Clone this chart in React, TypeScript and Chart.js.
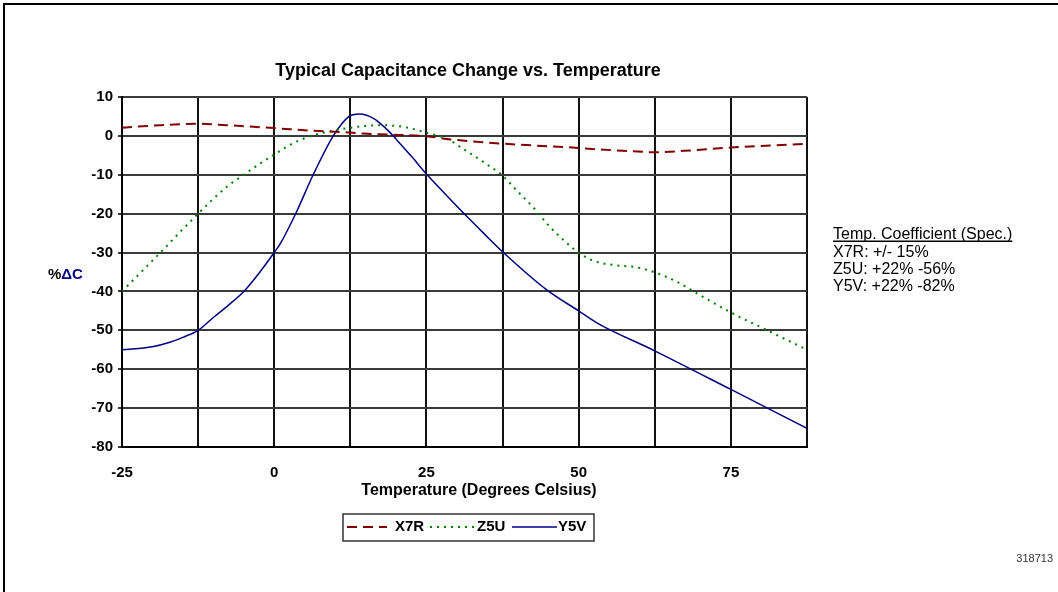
import { useEffect, useRef } from 'react';
import { Chart, registerables } from 'chart.js';

Chart.register(...registerables);

// ---- data (temperature °C -> % capacitance change) ----
const X7R_TEMPS = [-25, -18.7, -12.5, -7.8, 0, 6.4, 11.4, 14.6, 19, 25, 28.9, 37.5, 50, 53.5, 58.4, 62.4, 67.2, 75, 87.5];
const X7R_VALUES = [2.1, 2.75, 3.1, 2.75, 2.0, 1.3, 0.95, 0.6, 0.35, -0.1, -0.9, -2.0, -3.1, -3.5, -3.9, -4.2, -3.85, -3.0, -2.0];

const Z5U_TEMPS = [-25, -18.7, -12.5, -7.8, -5, -2.5, 0, 3.2, 7, 10, 12.5, 17.4, 21.8, 25, 28.3, 31, 34.9, 37.5, 39.8, 42.5, 44.75, 47.5, 50, 52.4, 55.7, 59.5, 62.7, 66.5, 69.4, 75, 81.1, 87.5];
const Z5U_VALUES = [-40, -30, -20, -13.1, -10, -7.3, -4.8, -1.8, 0.4, 1.4, 2.1, 2.75, 2.15, 0.8, -0.7, -3.3, -7.3, -10.2, -14, -18.3, -22.5, -26.8, -30, -32.1, -33.2, -33.8, -35.2, -37.8, -40.5, -45.4, -50.1, -55];

const Y5V_TEMPS = [-25, -20, -17, -15, -12.5, -10, -7.5, -5, -2.5, 0, 1, 3.4, 6.4, 9.7, 12.2, 14, 16.3, 17.4, 19, 20.5, 22.5, 25, 28, 31.25, 34.5, 37.5, 44.75, 50, 52.9, 62.4, 75, 87.5];
const Y5V_VALUES = [-55, -54.2, -53, -51.8, -50, -46.7, -43.5, -40, -35.3, -30, -27.7, -20.4, -10, 0, 4.9, 5.6, 4.5, 3.2, 0.9, -1.7, -5.2, -9.8, -14.8, -20.1, -25.2, -29.8, -39.6, -45, -48, -55.2, -65.2, -75.2];

const X_TICK_LABELS = [-25, 0, 25, 50, 75];
const SERIES_NAMES = ['X7R', 'Z5U', 'Y5V'];
const SPEC_LINES = ['X7R: +/- 15%', 'Z5U: +22% -56%', 'Y5V: +22% -82%'];

const FONT = "'Liberation Sans', Arial, Helvetica, sans-serif";
const COLORS = ['#800000', '#008000', '#000080'];
const DASHES = [[10, 6], [2, 5], []];
const WIDTHS = [2, 2, 1.5];

const extrasPlugin = {
  id: 'extras',
  afterDraw(chart: any) {
    const ctx = chart.ctx as CanvasRenderingContext2D;
    ctx.save();
    // frame
    ctx.fillStyle = '#000';
    ctx.fillRect(3, 3, 1055, 2);
    ctx.fillRect(3, 3, 2, 589);

    // title
    ctx.fillStyle = '#000';
    ctx.font = `bold 18px ${FONT}`;
    ctx.textAlign = 'center';
    ctx.textBaseline = 'middle';
    ctx.fillText('Typical Capacitance Change vs. Temperature', 468, 71);

    // x axis title
    ctx.font = `bold 16px ${FONT}`;
    ctx.fillText('Temperature (Degrees Celsius)', 479, 491);

    // y axis title
    ctx.font = `bold 15px ${FONT}`;
    ctx.textAlign = 'left';
    const pw = ctx.measureText('%').width;
    const yx = 48;
    const yy = 275;
    ctx.fillStyle = '#000';
    ctx.fillText('%', yx, yy);
    ctx.fillStyle = '#000080';
    ctx.fillText('\u0394C', yx + pw, yy);

    // legend box
    ctx.strokeStyle = '#333';
    ctx.lineWidth = 1.5;
    ctx.setLineDash([]);
    ctx.strokeRect(343, 514, 251, 27);
    const lineStarts = [347, 430, 512];
    const lineEnds = [387, 475, 557];
    const textStarts = [395, 477, 558];
    const ly = 527;
    SERIES_NAMES.forEach((name, i) => {
      ctx.strokeStyle = COLORS[i];
      ctx.lineWidth = WIDTHS[i];
      ctx.setLineDash(DASHES[i]);
      ctx.beginPath();
      ctx.moveTo(lineStarts[i], ly);
      ctx.lineTo(lineEnds[i], ly);
      ctx.stroke();
      ctx.setLineDash([]);
      ctx.fillStyle = '#000';
      ctx.font = `bold 15px ${FONT}`;
      ctx.textAlign = 'left';
      ctx.textBaseline = 'middle';
      ctx.fillText(name, textStarts[i], ly);
    });

    // spec annotation
    ctx.fillStyle = '#000';
    ctx.font = `16px ${FONT}`;
    ctx.textAlign = 'left';
    ctx.textBaseline = 'alphabetic';
    const head = 'Temp. Coefficient (Spec.)';
    ctx.fillText(head, 833, 239);
    const hw = ctx.measureText(head).width;
    ctx.fillRect(833, 240.5, hw, 1.5);
    SPEC_LINES.forEach((s, i) => ctx.fillText(s, 833, 257 + i * 17.2));

    // footer id
    ctx.font = `11px ${FONT}`;
    ctx.fillStyle = '#333';
    ctx.textAlign = 'right';
    ctx.fillText('318713', 1053, 562);
    ctx.restore();
  },
};

export default function App() {
  const ref = useRef<HTMLCanvasElement | null>(null);

  useEffect(() => {
    if (!ref.current) return;
    const series = [
      [X7R_TEMPS, X7R_VALUES],
      [Z5U_TEMPS, Z5U_VALUES],
      [Y5V_TEMPS, Y5V_VALUES],
    ];
    const chart = new Chart(ref.current, {
      type: 'line',
      data: {
        datasets: series.map(([t, v], i) => ({
          label: SERIES_NAMES[i],
          data: t.map((x, k) => ({ x, y: v[k] })),
          borderColor: COLORS[i],
          borderWidth: WIDTHS[i],
          borderDash: DASHES[i],
          pointRadius: 0,
          fill: false,
          cubicInterpolationMode: 'monotone' as const,
        })),
      },
      options: {
        responsive: false,
        animation: false,
        devicePixelRatio: 1,
        layout: { padding: { left: 62, right: 251, top: 97, bottom: 105 } },
        plugins: { legend: { display: false }, title: { display: false }, tooltip: { enabled: false } },
        scales: {
          x: {
            type: 'linear',
            min: -25,
            max: 87.5,
            afterFit: (s: any) => { s.height = 40; },
            afterBuildTicks: (s: any) => {
              const ticks = [];
              for (let k = 0; k <= 9; k++) ticks.push({ value: -25 + k * 12.5 });
              s.ticks = ticks;
            },
            ticks: {
              autoSkip: false,
              maxRotation: 0,
              padding: 17,
              color: '#000',
              font: { family: FONT, size: 15, weight: 'bold' },
              callback: (v: any) => (X_TICK_LABELS.includes(Number(v)) ? String(v) : ''),
            },
            grid: { color: '#111', lineWidth: 2, drawTicks: false },
            border: { display: true, color: '#000', width: 2 },
          },
          y: {
            min: -80,
            max: 10,
            afterFit: (s: any) => { s.width = 60; },
            ticks: {
              stepSize: 10,
              padding: 5,
              color: '#000',
              font: { family: FONT, size: 15, weight: 'bold' },
              callback: (v: any) => String(v),
            },
            grid: { color: '#3a3a3a', lineWidth: 2, drawTicks: true, tickLength: 4 },
            border: { display: true, color: '#000', width: 2 },
          },
        },
      },
      plugins: [extrasPlugin],
    });
    return () => chart.destroy();
  }, []);

  return (
    <div style={{ position: 'fixed', left: 0, top: 0, width: 1058, height: 592, background: '#fff' }}>
      <canvas ref={ref} width={1058} height={592} style={{ display: 'block', width: 1058, height: 592 }} />
    </div>
  );
}
